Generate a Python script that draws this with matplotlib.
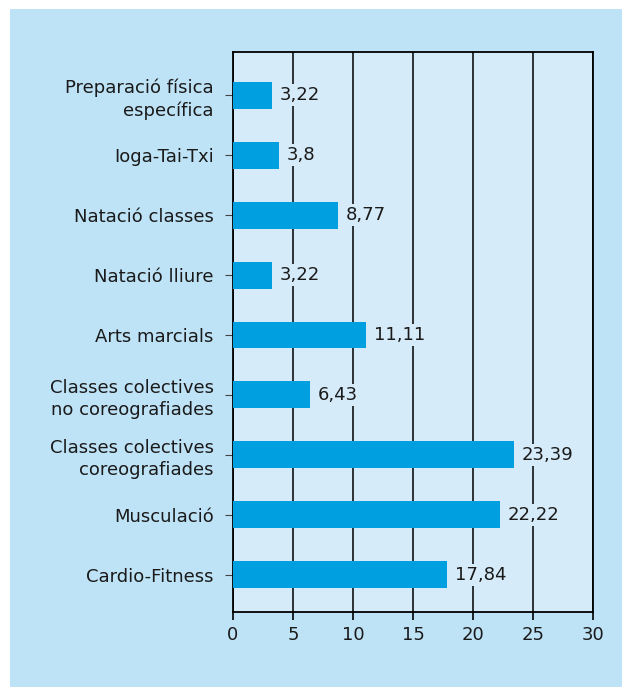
import matplotlib
matplotlib.use('Agg')
import matplotlib.pyplot as plt
from matplotlib.patches import Rectangle

# Dades
categories = ['Cardio-Fitness', 'Musculació', 'Classes colectives\ncoreografiades',
              'Classes colectives\nno coreografiades', 'Arts marcials', 'Natació lliure',
              'Natació classes', 'Ioga-Tai-Txi', 'Preparació física\nespecífica']
values = [17.84, 22.22, 23.39, 6.43, 11.11, 3.22, 8.77, 3.8, 3.22]
labels = ['17,84', '22,22', '23,39', '6,43', '11,11', '3,22', '8,77', '3,8', '3,22']
xticks = [0, 5, 10, 15, 20, 25, 30]

panel_bg = '#bee3f6'
axes_bg = '#d5ebf9'
bar_color = '#009fe0'

plt.rcParams['font.family'] = ['DejaVu Sans']

fig = plt.figure(figsize=(6.22, 6.87), dpi=100, facecolor='white')
# panell blau de fons
fig.patches.append(Rectangle((10 / 622, -0.01), 1.0, 678 / 687 + 0.01, transform=fig.transFigure,
                             facecolor=panel_bg, edgecolor='none', zorder=-1))

ax = fig.add_axes([233 / 622, 1 - 612 / 687, 360 / 622, 560 / 687])
ax.set_facecolor(axes_bg)

pos = range(len(categories))
ax.barh(pos, values, height=0.45, color=bar_color, zorder=3)
for i, (v, lab) in enumerate(zip(values, labels)):
    ax.text(v + 0.65, i, lab, va='center', ha='left', fontsize=13, color='#1a1a1a', zorder=4,
            bbox=dict(facecolor=axes_bg, edgecolor='none', pad=1.5))

ax.set_xlim(0, 30)
ax.set_ylim(-0.62, 8.72)
ax.set_xticks(xticks)
ax.set_xticklabels([str(t) for t in xticks], fontsize=13, color='#1a1a1a')
ax.set_yticks(list(pos))
ax.set_yticklabels(categories, fontsize=13, color='#1a1a1a', linespacing=1.3)
for t in ax.get_yticklabels():
    t.set_multialignment('right')
ax.xaxis.grid(True, color='black', linewidth=1.1, zorder=1)
ax.set_axisbelow(True)
for s in ax.spines.values():
    s.set_color('black')
    s.set_linewidth(1.3)
ax.tick_params(axis='y', length=6, width=0.8, color='#444444', pad=8)
ax.tick_params(axis='x', length=6, width=1.2, pad=4)

fig.savefig('out.png', dpi=100, facecolor='white')
